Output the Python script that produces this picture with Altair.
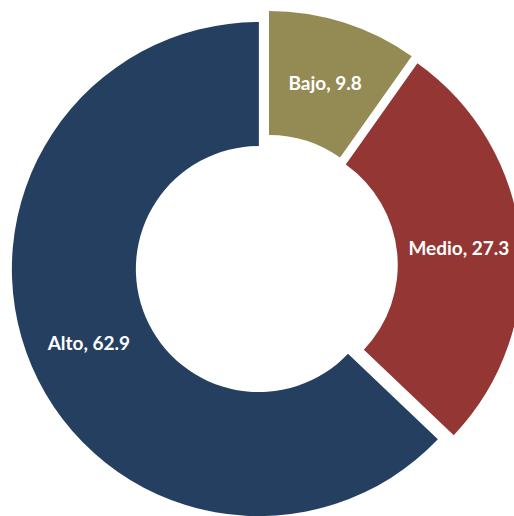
import altair as alt
import pandas as pd

# Data
categories = ["Bajo", "Medio", "Alto"]
values = [9.8, 27.3, 62.9]
colors = ["#948A54", "#943634", "#253F60"]

# Layout / style
W, H = 514, 516
CX, CY = 266.5, 265.8
R_OUT, R_IN = 247, 123
EXPLODE = 8.3
R_LABEL = (R_OUT + R_IN) / 2

df = pd.DataFrame({"category": categories, "value": values, "order": list(range(len(categories)))})

base = alt.Chart(df).transform_joinaggregate(
    total="sum(value)"
).transform_window(
    cum="sum(value)", sort=[alt.SortField("order")], frame=[None, 0]
).transform_calculate(
    end="2*PI*datum.cum/datum.total",
    start="2*PI*(datum.cum-datum.value)/datum.total",
).transform_calculate(
    mid="(datum.start+datum.end)/2"
).transform_calculate(
    cx=f"{CX}+{EXPLODE}*sin(datum.mid)",
    cy=f"{CY}-{EXPLODE}*cos(datum.mid)",
).transform_calculate(
    lx=f"datum.cx+{R_LABEL}*sin(datum.mid)",
    ly=f"datum.cy-{R_LABEL}*cos(datum.mid)",
    label="datum.category + ', ' + format(datum.value, '.1f')",
)

arcs = base.mark_arc(radius=R_OUT, radius2=R_IN, stroke=None).encode(
    x=alt.X("cx:Q", scale=None, axis=None),
    y=alt.Y("cy:Q", scale=None, axis=None),
    theta=alt.Theta("start:Q", scale=None),
    theta2="end:Q",
    color=alt.Color("category:N", scale=alt.Scale(domain=categories, range=colors), legend=None),
)

labels = base.mark_text(
    color="white", font="Lato", fontWeight="bold", fontSize=19, align="center",
    baseline="middle", dy=2
).encode(
    x=alt.X("lx:Q", scale=None, axis=None),
    y=alt.Y("ly:Q", scale=None, axis=None),
    text="label:N",
)

chart = alt.layer(arcs, labels).properties(
    width=W, height=H, padding=0, autosize=alt.AutoSizeParams(type="none"), background="white"
).configure_view(stroke=None)

chart.save("out.html", embed_options={"renderer": "svg", "actions": False})
